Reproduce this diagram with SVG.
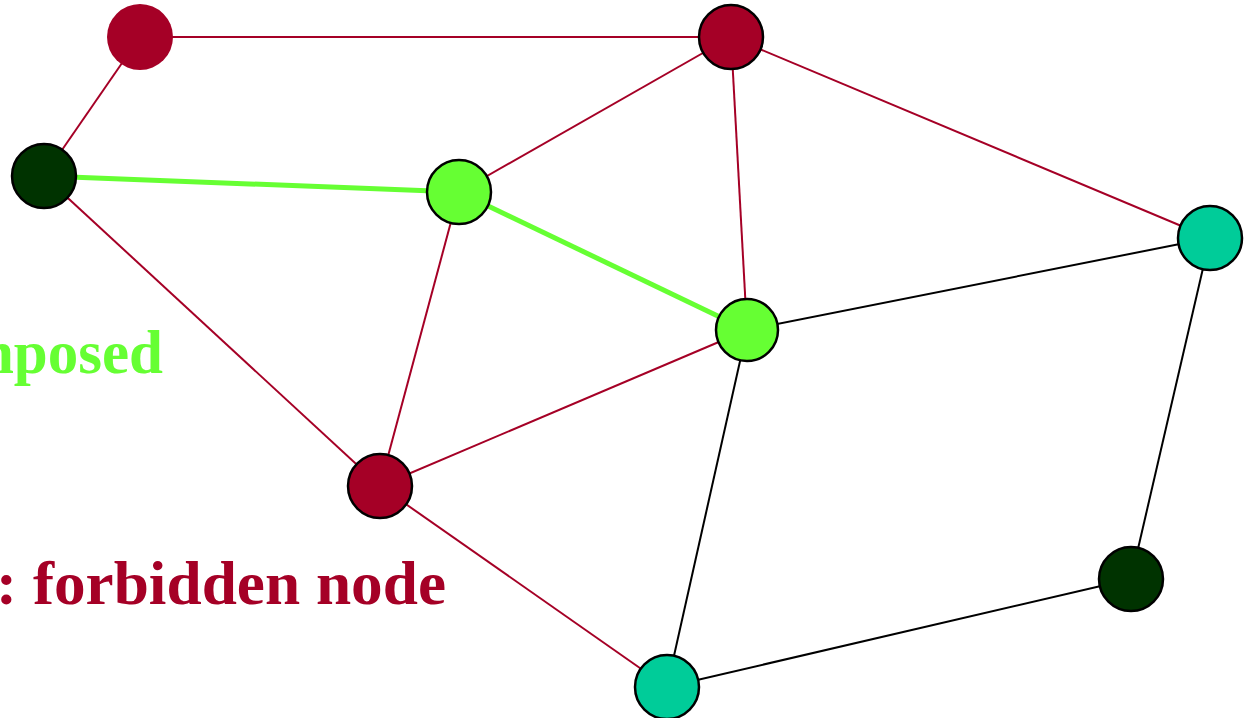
<svg xmlns="http://www.w3.org/2000/svg" width="1251" height="718" viewBox="0 0 1251 718">
  <style>
    .e-red { stroke: #A50026; stroke-width: 2; fill: none; }
    .e-blk { stroke: #000000; stroke-width: 2; fill: none; }
    .e-grn { stroke: #66FF33; stroke-width: 5; fill: none; }
    .n { stroke: #000000; stroke-width: 2.5; }
    .red { fill: #A50026; }
    .dark { fill: #003300; }
    .lime { fill: #66FF33; }
    .teal { fill: #00CC99; }
    .lbl { font-family: "Liberation Serif", "Times New Roman", serif; font-weight: bold; font-size: 61px; }
  </style>
  <rect width="1251" height="718" fill="#ffffff"/>

  <!-- legend labels -->
  <text class="lbl" x="163" y="373" text-anchor="end" fill="#66FF33">nposed</text>
  <text class="lbl" x="-4" y="604" fill="#A50026" textLength="450" lengthAdjust="spacingAndGlyphs">: forbidden node</text>

  <g id="edges">
    <line class="e-red" x1="140" y1="37" x2="731" y2="37"/>
    <line class="e-red" x1="140" y1="37" x2="44" y2="176"/>
    <line class="e-red" x1="44" y1="176" x2="380" y2="486"/>
    <line class="e-red" x1="459" y1="192" x2="731" y2="37"/>
    <line class="e-red" x1="459" y1="192" x2="380" y2="486"/>
    <line class="e-red" x1="731" y1="37" x2="747" y2="330"/>
    <line class="e-red" x1="731" y1="37" x2="1210" y2="238"/>
    <line class="e-red" x1="747" y1="330" x2="380" y2="486"/>
    <line class="e-red" x1="380" y1="486" x2="667" y2="687"/>
    <line class="e-blk" x1="747" y1="330" x2="1210" y2="238"/>
    <line class="e-blk" x1="747" y1="330" x2="667" y2="687"/>
    <line class="e-blk" x1="1210" y1="238" x2="1131" y2="579"/>
    <line class="e-blk" x1="1131" y1="579" x2="667" y2="687"/>
    <line class="e-grn" x1="44" y1="176" x2="459" y2="192"/>
    <line class="e-grn" x1="459" y1="192" x2="747" y2="330"/>
  </g>

  <g id="node-a"><circle class="red" cx="140" cy="37" r="33"/></g>
  <g id="node-b"><circle class="n red" cx="731" cy="37" r="32"/></g>
  <g id="node-c"><circle class="n dark" cx="44" cy="176" r="32"/></g>
  <g id="node-d"><circle class="n lime" cx="459" cy="192" r="32"/></g>
  <g id="node-e"><circle class="n lime" cx="747" cy="330" r="31"/></g>
  <g id="node-f"><circle class="n teal" cx="1210" cy="238" r="32"/></g>
  <g id="node-g"><circle class="n red" cx="380" cy="486" r="32"/></g>
  <g id="node-h"><circle class="n dark" cx="1131" cy="579" r="32"/></g>
  <g id="node-i"><circle class="n teal" cx="667" cy="687" r="32"/></g>
</svg>
